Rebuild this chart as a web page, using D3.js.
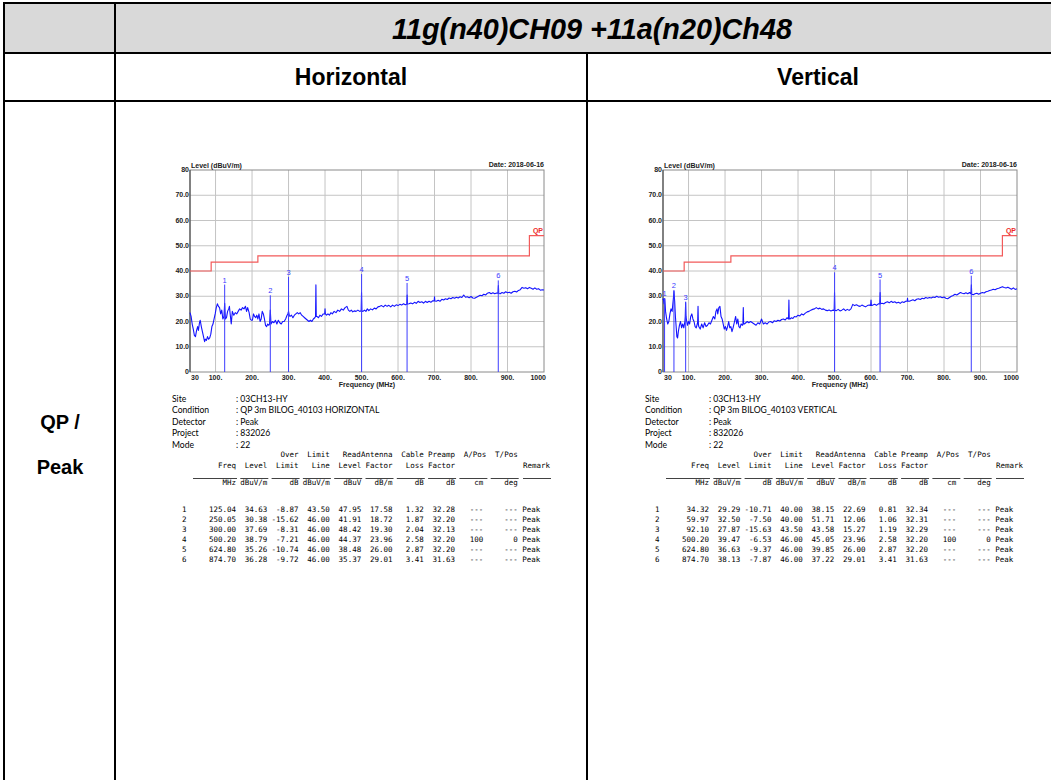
<!DOCTYPE html>
<html>
<head>
<meta charset="utf-8">
<script src="https://cdn.jsdelivr.net/npm/d3@7"></script>
<style>
  body { margin: 0; background: #fff; }
  svg  { display: block; }
</style>
</head>
<body>
<svg id="page" width="1051" height="780"></svg>
<script>
/* ═══════════════════════════════════════════════════════════════
   DATA
═══════════════════════════════════════════════════════════════ */

const title     = "11g(n40)CH09 +11a(n20)Ch48";
const polNames  = ["Horizontal", "Vertical"];
const rowLabel  = ["QP /", "Peak"];

const yTicks      = [0, 10, 20, 30, 40, 50, 60, 70, 80];
const yTickLabels = ["0", "10.0", "20.0", "30.0", "40.0", "50.0", "60.0", "70.0", "80"];
const xTicks      = [30, 100, 200, 300, 400, 500, 600, 700, 800, 900, 1000];
const xTickLabels = ["30", "100.", "200.", "300.", "400.", "500.", "600.", "700.", "800.", "900.", "1000"];

// QP limit line (MHz, dBuV/m)
const limitFreq  = [30, 88, 88, 216, 216, 960, 960, 1000];
const limitLevel = [40, 40, 43.5, 43.5, 46, 46, 54, 54];

// horizontal sweep
const hTrace = [
  [30,23.5],[33,22],[36,19],[39,17],[42,14.5],[45,14],[48,16.5],[51,18],[53,16.5],[56,19.5],
  [58,20.5],[61,18],[64,16],[67,14],[70,12],[72,13],[75,12.5],[78,14],[81,13],[84,13.5],
  [87,15],[90,18],[93,19],[96,21],[99,23],[102,25.5],[105,27],[108,26],[111,25.5],[114,23],
  [117,24.5],[120,21],[123,22],[125,27.2],[127,21],[130,21.5],[133,24],[136,25],[138,26],[140,23],
  [143,19],[146,24],[150,22.5],[154,23.5],[158,23],[162,24],[166,25],[170,24.5],[174,25.5],[178,25],
  [182,26],[185,24],[188,25.5],[192,23.5],[195,21],[198,20.5],[201,20.5],[204,23],[207,22],[210,21.5],
  [213,22.5],[216,21],[219,23],[222,20],[225,21],[228,24],[231,23],[234,21],[237,18.5],[240,18],
  [243,19],[246,18.5],[248,19],[250,24.5],[252,19],[256,20],[260,19.5],[264,20.5],[268,19],[272,20.5],
  [276,19.5],[280,19],[284,20],[288,20],[292,21],[296,22.5],[298,23],[300,24],[302,22.5],[304,22],
  [308,22.5],[312,21.5],[316,22.5],[320,23],[324,23.5],[328,23],[332,23.5],[336,22.5],[340,22],[344,21.5],
  [348,21],[352,20.5],[356,20],[360,20.5],[364,20],[368,21],[372,21.5],[374,22],[375,34.5],[376,22],
  [378,22],[382,21.5],[386,22.5],[390,22],[395,23],[399,23],[400,25],[401,23],[404,22.5],[408,23],
  [412,22.5],[416,23.5],[420,23],[425,24],[430,23.5],[435,24.5],[440,24],[445,25],[450,24.5],[455,25.5],
  [460,26],[464,24.5],[468,24],[472,24.5],[476,23.8],[480,24.2],[485,24],[490,24.5],[495,24],[499,24.3],
  [500,31.5],[501,24.2],[504,24],[508,24.5],[512,24],[516,25],[520,24.3],[525,25],[530,24.6],[535,25.3],
  [540,25],[545,25.8],[550,26],[555,26.3],[560,25.8],[565,26.5],[570,26],[575,26.4],[580,25.8],[585,26.5],
  [590,26],[595,26.6],[600,26.3],[605,26.8],[610,26.5],[615,27],[620,26.6],[624,26.8],[625,30.5],[626,26.9],
  [630,27],[635,27.3],[640,27],[645,27.6],[650,27.2],[655,28],[660,27.5],[665,27.8],[670,27.3],[675,28],
  [680,27.5],[685,28],[690,27.6],[695,28.2],[699,28.1],[700,29.8],[701,28.1],[705,28],[710,28.4],[715,28],
  [720,28.8],[725,28.5],[730,29],[735,28.7],[740,29.3],[745,29],[750,29.5],[755,29.2],[760,29.6],[765,29.3],
  [770,29.8],[775,29.5],[780,30.5],[785,29.6],[790,29.8],[795,29.4],[800,29.9],[805,29.3],[810,29.2],[815,29.6],
  [820,30],[825,30.4],[830,30.2],[835,30.8],[840,30.5],[845,31.2],[850,31.5],[855,31],[860,31.4],[865,31],
  [870,31.3],[874,31.2],[875,34.2],[876,31.1],[880,31],[885,31.5],[890,31.2],[895,31.8],[900,31.4],[905,31.6],
  [910,31.2],[915,31.8],[920,32],[925,31.7],[930,32.3],[935,32.6],[940,33.5],[945,33.2],[950,33.4],[955,33],
  [960,33.5],[965,33.2],[970,32.8],[975,33.3],[980,32.8],[985,33],[990,32.4],[995,32.6],[1000,32.5]
];

// vertical sweep
const vTrace = [
  [30,28.5],[31,29],[33,27],[35,29],[37,24],[40,21],[43,19],[46,20],[49,23],[52,25],
  [55,24],[57,27],[59,30],[60,32],[61,30],[62,28],[64,22],[66,18],[68,14],[70,13.5],
  [72,16],[75,18.5],[78,20],[81,17.5],[84,19],[87,17.5],[90,20],[91,22],[92,27.5],[93,22],
  [94,21],[97,18.5],[100,20],[103,19],[106,22],[109,23],[112,21],[115,20],[118,18],[121,17.5],
  [124,19],[125,20],[126,26],[127,19],[128,18],[132,17],[136,19],[140,17.5],[144,19.5],[148,18],
  [152,18.5],[156,19.5],[160,19],[164,20.5],[168,22],[172,21],[175,24],[178,25],[180,23],[183,25.5],
  [186,26],[189,22],[192,21],[195,19],[198,17],[201,18],[204,16.5],[207,18],[210,20],[213,17.5],
  [216,18],[219,16],[222,17.5],[226,20],[229,22],[232,19],[235,21],[238,18],[241,17.5],[244,19],
  [248,18.5],[249,19],[250,25.5],[251,19],[253,19],[257,19.5],[261,20],[265,19.5],[270,20],[275,19.5],
  [280,19],[285,18.5],[290,19.5],[295,19],[300,21],[305,19],[310,19.5],[315,19],[320,19.8],[325,20],
  [330,19.5],[335,20.3],[340,20],[345,20.5],[350,20.2],[355,20.8],[360,21],[365,20.6],[370,21.5],[374,21],
  [375,28.5],[376,21],[378,21],[382,21.5],[386,21.2],[390,22],[395,21.8],[400,22.5],[405,22.2],[410,23],
  [415,22.6],[420,23.3],[425,23.8],[430,24],[435,24.5],[440,24.8],[445,25],[450,25.5],[455,25],[460,25.3],
  [465,24.8],[470,25],[475,24.5],[480,24.3],[485,24.6],[490,24.2],[495,24.5],[499,24.4],[500,31.5],[501,24.4],
  [505,24.3],[510,24.8],[515,24.2],[520,24.5],[525,25],[530,24.3],[535,24.8],[540,24.4],[545,25],[550,26.8],
  [555,26.3],[560,26.6],[565,26.2],[570,26],[575,26.5],[580,26.1],[585,25.8],[590,26.3],[595,26.5],[599,26.4],
  [600,28.5],[601,26.4],[605,26.5],[610,26.8],[615,26.4],[620,27],[624,27],[625,31.5],[626,27],[630,27.2],
  [635,27],[640,27.5],[645,27.8],[650,27.4],[655,28],[660,27.5],[665,27.8],[670,27.3],[675,27.6],[680,27.2],
  [685,27.8],[690,27.5],[695,28],[699,28],[700,29.2],[701,28],[705,28],[710,28.3],[715,28.6],[720,28.2],
  [725,28.8],[730,29],[735,28.7],[740,29.2],[745,29],[750,29.5],[755,29.2],[760,29.5],[765,29.3],[770,29.7],
  [775,29.5],[780,30],[785,29.6],[790,29.8],[795,29.4],[800,29.7],[805,29.2],[810,29],[815,29.5],[820,30],
  [825,30.3],[830,30.8],[835,30.5],[840,31],[845,31.5],[850,31.2],[855,31],[860,31.4],[865,31],[870,31.5],
  [874,31],[875,34.5],[876,30.8],[880,30.6],[885,31],[890,31.2],[895,30.8],[900,31.2],[905,31.5],[910,31.3],
  [915,31.8],[920,32],[925,32.3],[930,32.5],[935,32.8],[940,32.6],[945,33],[950,33.2],[955,33.5],[960,33.8],
  [965,33.5],[970,33.3],[975,33.6],[980,33.2],[985,32.8],[990,33.3],[995,32.7],[1000,33]
];

const hInfo = [
  ["Site", ": 03CH13-HY"],
  ["Condition", ": QP 3m BILOG_40103 HORIZONTAL"],
  ["Detector", ": Peak"],
  ["Project", ": 832026"],
  ["Mode", ": 22"]
];
const vInfo = [
  ["Site", ": 03CH13-HY"],
  ["Condition", ": QP 3m BILOG_40103 VERTICAL"],
  ["Detector", ": Peak"],
  ["Project", ": 832026"],
  ["Mode", ": 22"]
];

const headTop   = ["", "", "Over", "Limit", "", "ReadAntenna", "Cable", "Preamp", "A/Pos", "T/Pos"];
const headMid   = ["Freq", "Level", "Limit", "Line", "Level", "Factor", "Loss", "Factor", "", ""];
const headUnits = ["MHz", "dBuV/m", "dB", "dBuV/m", "dBuV", "dB/m", "dB", "dB", "cm", "deg"];

// No, Freq, Level, Over Limit, Limit Line, Read Level, Antenna Factor, Cable Loss, Preamp Factor, A/Pos, T/Pos, Remark
const hRows = [
  ["1", "125.04", "34.63", "-8.87",  "43.50", "47.95", "17.58", "1.32", "32.28", "---", "---", "Peak"],
  ["2", "250.05", "30.38", "-15.62", "46.00", "41.91", "18.72", "1.87", "32.20", "---", "---", "Peak"],
  ["3", "300.00", "37.69", "-8.31",  "46.00", "48.42", "19.30", "2.04", "32.13", "---", "---", "Peak"],
  ["4", "500.20", "38.79", "-7.21",  "46.00", "44.37", "23.96", "2.58", "32.20", "100", "0",   "Peak"],
  ["5", "624.80", "35.26", "-10.74", "46.00", "38.48", "26.00", "2.87", "32.20", "---", "---", "Peak"],
  ["6", "874.70", "36.28", "-9.72",  "46.00", "35.37", "29.01", "3.41", "31.63", "---", "---", "Peak"]
];
const vRows = [
  ["1", "34.32",  "29.29", "-10.71", "40.00", "38.15", "22.69", "0.81", "32.34", "---", "---", "Peak"],
  ["2", "59.97",  "32.50", "-7.50",  "40.00", "51.71", "12.06", "1.06", "32.31", "---", "---", "Peak"],
  ["3", "92.10",  "27.87", "-15.63", "43.50", "43.58", "15.27", "1.19", "32.29", "---", "---", "Peak"],
  ["4", "500.20", "39.47", "-6.53",  "46.00", "45.05", "23.96", "2.58", "32.20", "100", "0",   "Peak"],
  ["5", "624.80", "36.63", "-9.37",  "46.00", "39.85", "26.00", "2.87", "32.20", "---", "---", "Peak"],
  ["6", "874.70", "38.13", "-7.87",  "46.00", "37.22", "29.01", "3.41", "31.63", "---", "---", "Peak"]
];

/* ═══════════════════════════════════════════════════════════════
   PAGE FRAME (report table)
═══════════════════════════════════════════════════════════════ */

const svg = d3.select("#page");
svg.append("rect").attr("width", 1051).attr("height", 780).attr("fill", "#fff");

const frame = svg.append("g");
frame.append("rect")
  .attr("x", 4).attr("y", 3).attr("width", 1060).attr("height", 50)
  .attr("fill", "#d9d9d9");

const bl = (x1, y1, x2, y2) => frame.append("line")
  .attr("x1", x1).attr("y1", y1).attr("x2", x2).attr("y2", y2)
  .attr("stroke", "#000").attr("stroke-width", 2);

bl(3, 3, 1060, 3);
bl(3, 53, 1060, 53);
bl(3, 101, 1060, 101);
bl(4, 2, 4, 780);
bl(115, 2, 115, 780);
bl(587, 53, 587, 780);

const arial = "'Liberation Sans', Arial, sans-serif";

frame.append("text")
  .attr("x", 592).attr("y", 39)
  .attr("text-anchor", "middle")
  .attr("font-family", arial).attr("font-size", 28.8)
  .attr("font-weight", "bold").attr("font-style", "italic")
  .text(title);

[351, 818].forEach((cx, i) => {
  frame.append("text")
    .attr("x", cx).attr("y", 85)
    .attr("text-anchor", "middle")
    .attr("font-family", arial).attr("font-size", 23).attr("font-weight", "bold")
    .text(polNames[i]);
});

rowLabel.forEach((t, i) => {
  frame.append("text")
    .attr("x", 60).attr("y", 429 + i * 45)
    .attr("text-anchor", "middle")
    .attr("font-family", arial).attr("font-size", 20).attr("font-weight", "bold")
    .text(t);
});

/* ═══════════════════════════════════════════════════════════════
   ONE PANEL: spectrum plot + result table
═══════════════════════════════════════════════════════════════ */

function drawPanel(dx, trace, rows, info) {
  const g = svg.append("g").attr("transform", `translate(${dx},0)`);

  const x = d3.scaleLinear().domain([30, 1000]).range([190, 544]);
  const y = d3.scaleLinear().domain([0, 80]).range([372, 170]);
  const small = { "font-family": arial, "font-size": 7, "font-weight": "bold", "fill": "#222" };
  const sty = (sel, o) => { Object.entries(o).forEach(([k, v]) => sel.attr(k, v)); return sel; };

  // grid
  g.append("g").selectAll("line")
    .data(yTicks.slice(1, -1))
    .join("line")
    .attr("x1", x(30)).attr("x2", x(1000))
    .attr("y1", d => y(d)).attr("y2", d => y(d))
    .attr("stroke", "#c4c4c4").attr("stroke-width", 1);

  g.append("g").selectAll("line")
    .data(xTicks.slice(1, -1))
    .join("line")
    .attr("x1", d => x(d)).attr("x2", d => x(d))
    .attr("y1", y(0)).attr("y2", y(80))
    .attr("stroke", "#c4c4c4").attr("stroke-width", 1);

  g.append("rect")
    .attr("x", x(30)).attr("y", y(80))
    .attr("width", x(1000) - x(30)).attr("height", y(0) - y(80))
    .attr("fill", "none").attr("stroke", "#8a8a8a").attr("stroke-width", 1);

  g.append("line")
    .attr("x1", x(30)).attr("x2", x(30)).attr("y1", y(80)).attr("y2", y(0))
    .attr("stroke", "#555").attr("stroke-width", 1.2);

  // tick labels
  yTicks.forEach((t, i) => {
    sty(g.append("text"), small)
      .attr("x", x(30) - 1).attr("y", y(t) + 2)
      .attr("text-anchor", "end")
      .text(yTickLabels[i]);
  });

  xTicks.forEach((t, i) => {
    const anchor = i === 0 ? "start" : (i === xTicks.length - 1 ? "end" : "middle");
    const px = i === 0 ? x(t) + 1 : (i === xTicks.length - 1 ? x(t) + 2 : x(t));
    sty(g.append("text"), small)
      .attr("x", px).attr("y", y(0) + 8)
      .attr("text-anchor", anchor)
      .text(xTickLabels[i]);
  });

  sty(g.append("text"), small)
    .attr("x", (x(30) + x(1000)) / 2).attr("y", y(0) + 15)
    .attr("text-anchor", "middle")
    .text("Frequency (MHz)");

  sty(g.append("text"), small)
    .attr("x", x(30) + 1).attr("y", y(80) - 2)
    .text("Level (dBuV/m)");

  sty(g.append("text"), small)
    .attr("x", x(1000)).attr("y", y(80) - 3)
    .attr("text-anchor", "end")
    .text("Date: 2018-06-16");

  // limit line
  const limitLine = d3.line().x(d => x(d[0])).y(d => y(d[1]));
  g.append("path")
    .datum(limitFreq.map((f, i) => [f, limitLevel[i]]))
    .attr("d", limitLine)
    .attr("fill", "none").attr("stroke", "#f25a5a").attr("stroke-width", 1.2);

  sty(g.append("text"), small)
    .attr("x", x(1000) - 1).attr("y", y(54) - 3)
    .attr("text-anchor", "end").attr("fill", "#ee2a2a")
    .text("QP");

  // sweep trace
  g.append("path")
    .datum(trace)
    .attr("d", d3.line().x(d => x(d[0])).y(d => y(d[1])))
    .attr("fill", "none").attr("stroke", "#1414ff").attr("stroke-width", 1.1)
    .attr("stroke-linejoin", "round");

  // markers
  const mk = g.append("g");
  mk.selectAll("line")
    .data(rows)
    .join("line")
    .attr("x1", d => x(+d[1])).attr("x2", d => x(+d[1]))
    .attr("y1", y(0)).attr("y2", d => y(+d[2]))
    .attr("stroke", "#3c3cff").attr("stroke-width", 1);

  mk.selectAll("text")
    .data(rows)
    .join("text")
    .attr("x", d => x(+d[1])).attr("y", d => y(+d[2]) - 2)
    .attr("text-anchor", "middle")
    .attr("font-family", arial).attr("font-size", 7.5)
    .attr("fill", "#3c3cff")
    .text(d => d[0]);

  // info block
  const label = { "font-family": "Lato, 'Open Sans', sans-serif", "font-size": 8.6, "fill": "#000" };
  info.forEach((r, i) => {
    const yy = 402 + i * 11.4;
    sty(g.append("text"), label).attr("x", 172).attr("y", yy).text(r[0]);
    sty(g.append("text"), label).attr("x", 236).attr("y", yy).text(r[1]);
  });

  // result table
  const mono = { "font-family": "'DejaVu Sans Mono', 'Liberation Mono', monospace", "font-size": 7.5, "fill": "#000" };
  const colRight = d3.range(10).map(i => 236 + i * 31.3);

  headTop.forEach((t, i) => {
    if (t) sty(g.append("text"), mono).attr("x", colRight[i]).attr("y", 457).attr("text-anchor", "end").text(t);
  });
  headMid.forEach((t, i) => {
    if (t) sty(g.append("text"), mono).attr("x", colRight[i]).attr("y", 468).attr("text-anchor", "end").text(t);
  });
  sty(g.append("text"), mono).attr("x", 550).attr("y", 468).attr("text-anchor", "end").text("Remark");

  colRight.concat([550]).forEach((r, i) => {
    g.append("line")
      .attr("x1", i === 0 ? 193 : r - 27).attr("x2", r + 1)
      .attr("y1", 478.5).attr("y2", 478.5)
      .attr("stroke", "#111").attr("stroke-width", 0.8);
  });
  headUnits.forEach((t, i) => {
    sty(g.append("text"), mono).attr("x", colRight[i] - (i === 8 ? 3 : 0)).attr("y", 485)
      .attr("text-anchor", "end").text(t);
  });

  rows.forEach((r, j) => {
    const yy = 512 + j * 10;
    sty(g.append("text"), mono).attr("x", 182).attr("y", yy).text(r[0]);
    r.slice(1, 11).forEach((v, i) => {
      sty(g.append("text"), mono)
        .attr("x", colRight[i] - (i === 8 ? 3 : 0)).attr("y", yy)
        .attr("text-anchor", "end").text(v);
    });
    sty(g.append("text"), mono).attr("x", colRight[9] + 4.5).attr("y", yy).text(r[11]);
  });
}

drawPanel(0, hTrace, hRows, hInfo);
drawPanel(473, vTrace, vRows, vInfo);
</script>
</body>
</html>
